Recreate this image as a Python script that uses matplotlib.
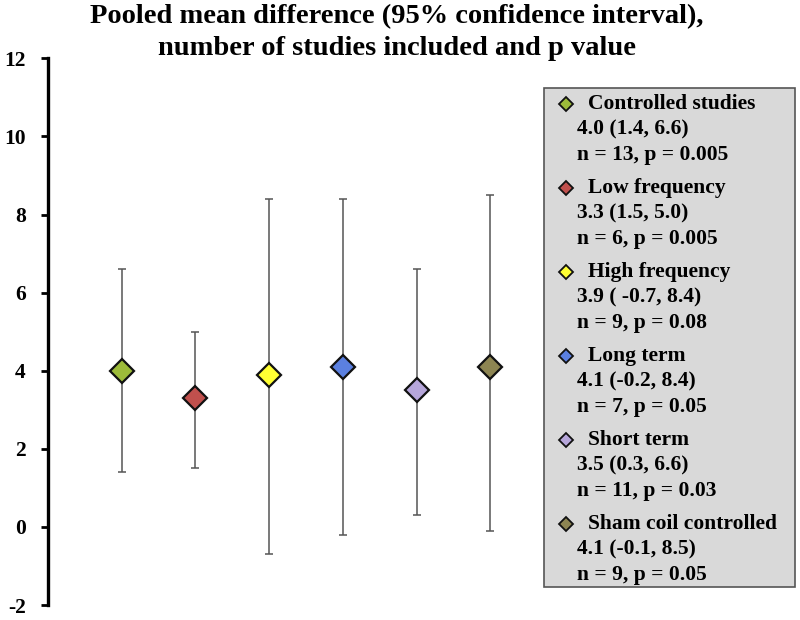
import matplotlib.pyplot as plt
from matplotlib.patches import Rectangle

# data
groups = ['Controlled studies', 'Low frequency', 'High frequency',
          'Long term', 'Short term', 'Sham coil controlled']
means = [4.0, 3.3, 3.9, 4.1, 3.5, 4.1]
lower = [1.4, 1.5, -0.7, -0.2, 0.3, -0.1]
upper = [6.6, 5.0, 8.4, 8.4, 6.6, 8.5]
ci_text = ['4.0 (1.4, 6.6)', '3.3 (1.5, 5.0)', '3.9 ( -0.7, 8.4)',
           '4.1 (-0.2, 8.4)', '3.5 (0.3, 6.6)', '4.1 (-0.1, 8.5)']
np_text = ['n = 13, p = 0.005', 'n = 6, p = 0.005', 'n = 9, p = 0.08',
           'n = 7, p = 0.05', 'n = 11, p = 0.03', 'n = 9, p = 0.05']
colors = ['#9dbb3a', '#c0504d', '#ffff33', '#5b80e0', '#b6a6da', '#8d8552']
yticks = [-2, 0, 2, 4, 6, 8, 10, 12]
title_lines = ['Pooled mean difference (95% confidence interval),',
               'number of studies included and p value']

serif = ['Liberation Serif', 'DejaVu Serif']

fig = plt.figure(figsize=(8, 6.2), dpi=100)
ax = fig.add_axes([0.06, 0.024, 0.645, 0.882])

xs = list(range(1, len(groups) + 1))
for x, m, lo, hi, c in zip(xs, means, lower, upper, colors):
    ax.errorbar(x, m, yerr=[[m - lo], [hi - m]], fmt='none', ecolor='#555555',
                elinewidth=1.1, capsize=3, capthick=1.1, zorder=1)
    ax.plot(x, m, marker='D', ms=12.5, mfc=c, mec='#111111', mew=1.6,
            ls='none', zorder=3)

ax.set_xlim(0, 7)
ax.set_ylim(-2, 12)
ax.set_yticks(yticks)
ax.set_yticklabels([str(t) for t in yticks], fontfamily=serif,
                   fontweight='bold', fontsize=15.5)
ax.tick_params(axis='y', direction='out', length=5, width=2, pad=11)
ax.set_xticks([])
for s in ['top', 'right', 'bottom']:
    ax.spines[s].set_visible(False)
ax.spines['left'].set_linewidth(2.4)

for k, t in enumerate(title_lines):
    fig.text(0.496, 1 - (23 + 32 * k) / 620, t, ha='center', va='baseline',
             fontfamily=serif, fontweight='bold', fontsize=20.5)

# legend box
box_x0, box_y0 = 544 / 800, 1 - 587 / 620
box_w, box_h = (795 - 544) / 800, (587 - 88) / 620
fig.patches.append(Rectangle((box_x0, box_y0), box_w, box_h,
                             transform=fig.transFigure, facecolor='#d9d9d9',
                             edgecolor='#555555', linewidth=1.2))
line_h = 25.5
group_h = 84
for i, (g, ci, nt, c) in enumerate(zip(groups, ci_text, np_text, colors)):
    y0 = 104 + i * group_h
    fig.lines.append(plt.Line2D([566 / 800], [1 - y0 / 620],
                                transform=fig.transFigure, marker='D', ms=7,
                                mfc=c, mec='#111111', mew=1.3, ls='none'))
    for k, t in enumerate([g, ci, nt]):
        fig.text(588 / 800 if k == 0 else 577 / 800,
                 1 - (y0 + k * line_h) / 620, t, ha='left', va='center',
                 fontfamily=serif, fontweight='bold', fontsize=15.5)

fig.savefig('out.png', dpi=100)
